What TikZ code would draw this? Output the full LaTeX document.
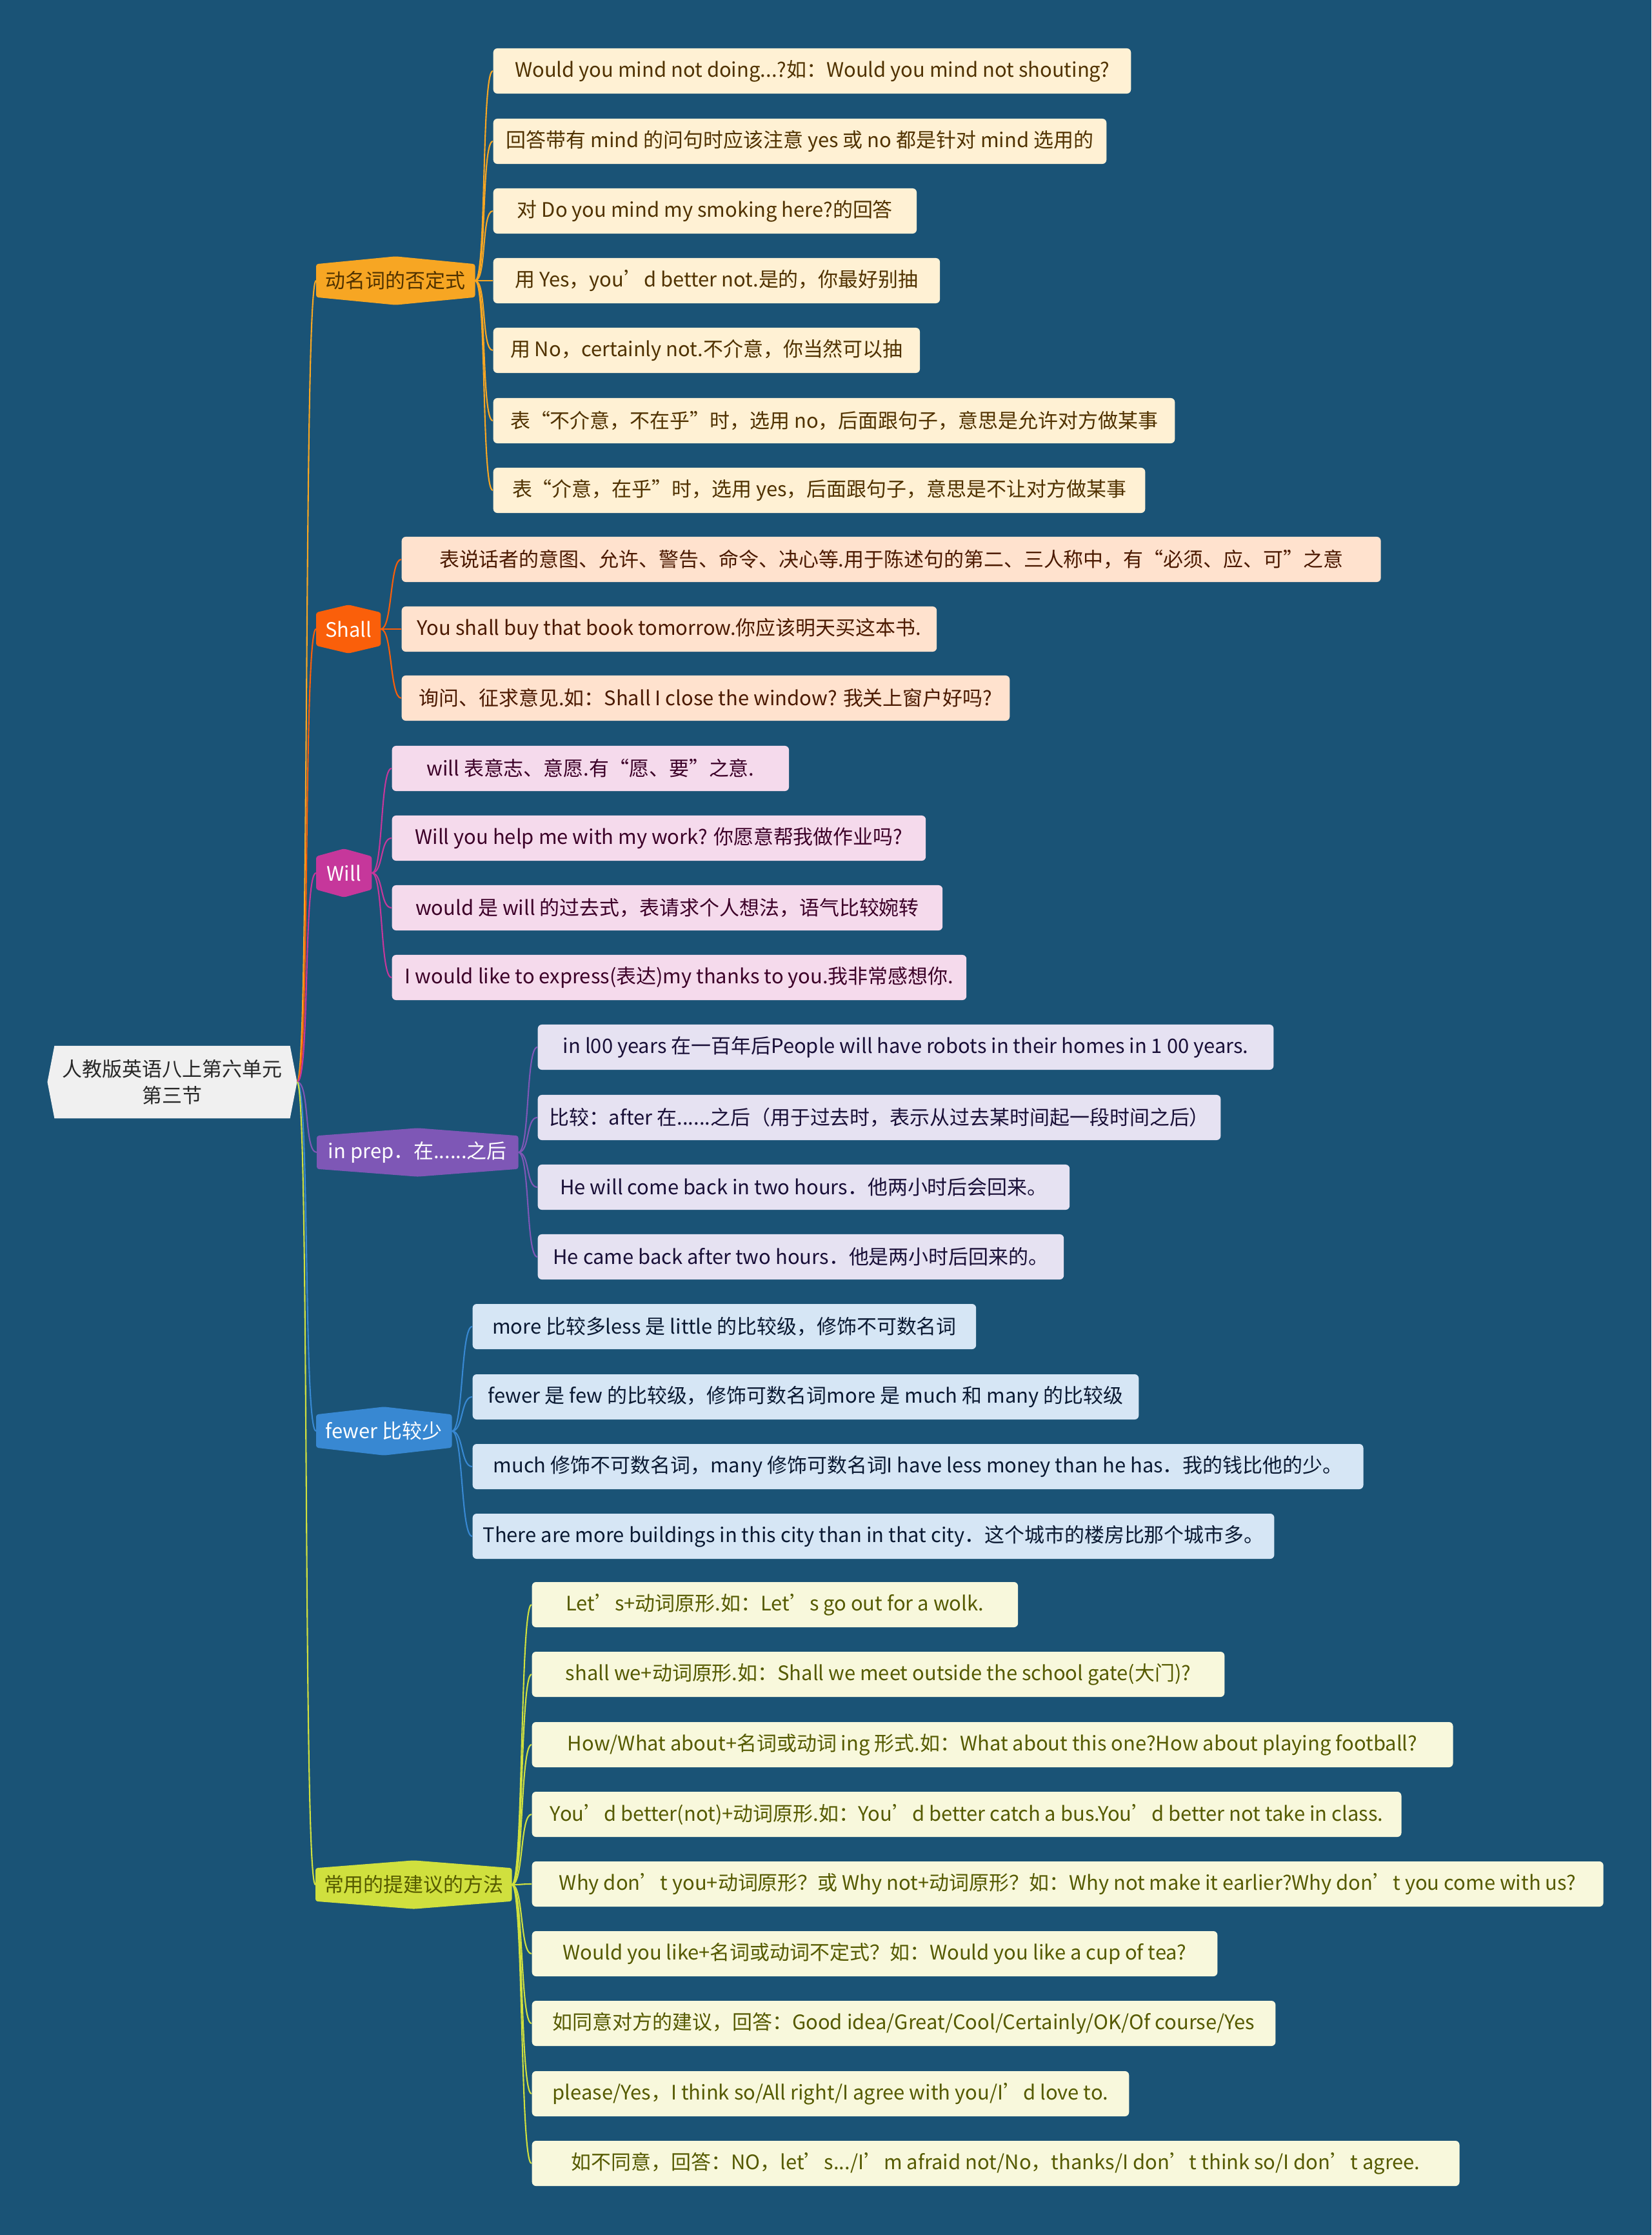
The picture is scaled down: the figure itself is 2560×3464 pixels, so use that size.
\documentclass[tikz,border=0pt]{standalone}
\usepackage{fontspec}
\setmainfont{Noto Sans CJK SC}
\usetikzlibrary{calc}

\definecolor{bgblue}{RGB}{26,83,118}
\definecolor{rootfill}{RGB}{240,240,240}
\definecolor{roottext}{RGB}{40,40,40}
% branch colours
\definecolor{topA}{RGB}{247,166,35}
\definecolor{topB}{RGB}{250,95,10}
\definecolor{topC}{RGB}{198,55,155}
\definecolor{topD}{RGB}{126,87,182}
\definecolor{topE}{RGB}{56,136,210}
\definecolor{topF}{RGB}{208,224,62}
\definecolor{fillA}{RGB}{255,241,212}
\definecolor{fillB}{RGB}{255,226,206}
\definecolor{fillC}{RGB}{245,218,236}
\definecolor{fillD}{RGB}{230,226,242}
\definecolor{fillE}{RGB}{214,230,245}
\definecolor{fillF}{RGB}{248,248,220}
\definecolor{textA}{RGB}{80,50,0}
\definecolor{textB}{RGB}{75,25,0}
\definecolor{textC}{RGB}{60,0,40}
\definecolor{textD}{RGB}{25,15,55}
\definecolor{textE}{RGB}{10,25,50}
\definecolor{textF}{RGB}{85,90,0}

\pgfdeclarelayer{back}
\pgfsetlayers{back,main}

\newcommand{\mapfont}{\fontsize{8.8pt}{11.5pt}\selectfont}

\tikzset{
  link/.style={line width=0.6pt},
  topic/.style={anchor=west, minimum height=0.5cm, inner sep=1pt, font=\mapfont},
  leaf/.style={anchor=west, rounded corners=1.8pt, minimum height=0.7cm,
    inner xsep=3pt, inner ysep=0pt, font=\mapfont},
  leafA/.style={leaf, fill=fillA, text=textA},
  leafB/.style={leaf, fill=fillB, text=textB},
  leafC/.style={leaf, fill=fillC, text=textC},
  leafD/.style={leaf, fill=fillD, text=textD},
  leafE/.style={leaf, fill=fillE, text=textE},
  leafF/.style={leaf, fill=fillF, text=textF},
}

\begin{document}
\begin{tikzpicture}[x=0.01cm, y=-0.01cm]
\useasboundingbox (0,0) rectangle (2560,3464);
\begin{pgfonlayer}{back}
  \fill[bgblue] (0,0) rectangle (2560,3464);
\end{pgfonlayer}

% root
\node[align=center, minimum width=3.62cm, minimum height=1.11cm, text=roottext, font=\mapfont]
  (root) at (267,1677) {人教版英语八上第六单元\\第三节};
\coordinate (rootout) at ([xshift=3.1pt]root.east);

% main topics
\node[topic, minimum width=2.45cm, text=textA] (m1) at (490,435) {动名词的否定式};
\node[topic, minimum width=0.99cm, text=white] (m2) at (490,975) {Shall};
\node[topic, minimum width=0.85cm, text=white] (m3) at (490,1353) {Will};
\node[topic, minimum width=3.11cm, text=white] (m4) at (491,1786) {in prep．在......之后};
\node[topic, minimum width=2.09cm, text=white] (m5) at (490,2218) {fewer 比较少};
\node[topic, minimum width=3.03cm, text=textF] (m6) at (489,2921) {常用的提建议的方法};

% 动名词的否定式
\node[leafA, minimum width=9.88cm] (a1) at (764,110) {Would you mind not doing...?如：Would you mind not shouting?};
\node[leafA, minimum width=9.50cm] (a2) at (764,219) {回答带有 mind 的问句时应该注意 yes 或 no 都是针对 mind 选用的};
\node[leafA, minimum width=6.56cm] (a3) at (764,327) {对 Do you mind my smoking here?的回答};
\node[leafA, minimum width=6.92cm] (a4) at (764,435) {用 Yes，you’d better not.是的，你最好别抽};
\node[leafA, minimum width=6.61cm] (a5) at (764,543) {用 No，certainly not.不介意，你当然可以抽};
\node[leafA, minimum width=10.56cm] (a6) at (764,652) {表“不介意，不在乎”时，选用 no，后面跟句子，意思是允许对方做某事};
\node[leafA, minimum width=10.10cm] (a7) at (764,760) {表“介意，在乎”时，选用 yes，后面跟句子，意思是不让对方做某事};

% Shall
\node[leafB, minimum width=15.17cm] (b1) at (622,867) {表说话者的意图、允许、警告、命令、决心等.用于陈述句的第二、三人称中，有“必须、应、可”之意};
\node[leafB, minimum width=8.29cm] (b2) at (622,975) {You shall buy that book tomorrow.你应该明天买这本书.};
\node[leafB, minimum width=9.42cm] (b3) at (622,1082) {询问、征求意见.如：Shall I close the window? 我关上窗户好吗?};

% Will
\node[leafC, minimum width=6.15cm] (c1) at (607,1191) {will 表意志、意愿.有“愿、要”之意.};
\node[leafC, minimum width=8.27cm] (c2) at (607,1299) {Will you help me with my work? 你愿意帮我做作业吗?};
\node[leafC, minimum width=8.53cm] (c3) at (607,1407) {would 是 will 的过去式，表请求个人想法，语气比较婉转};
\node[leafC, minimum width=8.90cm] (c4) at (607,1515) {I would like to express(表达)my thanks to you.我非常感想你.};

% in prep.
\node[leafD, minimum width=11.40cm] (d1) at (833,1623) {in l00 years 在一百年后People will have robots in their homes in 1 00 years.};
\node[leafD, minimum width=10.58cm] (d2) at (833,1732) {比较：after 在......之后（用于过去时，表示从过去某时间起一段时间之后）};
\node[leafD, minimum width=8.24cm] (d3) at (833,1840) {He will come back in two hours．他两小时后会回来。};
\node[leafD, minimum width=8.15cm] (d4) at (833,1948) {He came back after two hours．他是两小时后回来的。};

% fewer
\node[leafE, minimum width=7.80cm] (e1) at (732,2056) {more 比较多less 是 little 的比较级，修饰不可数名词};
\node[leafE, minimum width=10.32cm] (e2) at (732,2165) {fewer 是 few 的比较级，修饰可数名词more 是 much 和 many 的比较级};
\node[leafE, minimum width=13.80cm] (e3) at (732,2273) {much 修饰不可数名词，many 修饰可数名词I have less money than he has．我的钱比他的少。};
\node[leafE, minimum width=12.42cm] (e4) at (732,2381) {There are more buildings in this city than in that city．这个城市的楼房比那个城市多。};

% 常用的提建议的方法
\node[leafF, minimum width=7.53cm] (f1) at (824,2487) {Let’s+动词原形.如：Let’s go out for a wolk.};
\node[leafF, minimum width=10.73cm] (f2) at (824,2595) {shall we+动词原形.如：Shall we meet outside the school gate(大门)?};
\node[leafF, minimum width=14.27cm] (f3) at (824,2704) {How/What about+名词或动词 ing 形式.如：What about this one?How about playing football?};
\node[leafF, minimum width=13.47cm] (f4) at (824,2812) {You’d better(not)+动词原形.如：You’d better catch a bus.You’d better not take in class.};
\node[leafF, minimum width=16.60cm] (f5) at (824,2920) {Why don’t you+动词原形？或 Why not+动词原形？如：Why not make it earlier?Why don’t you come with us?};
\node[leafF, minimum width=10.62cm] (f6) at (824,3028) {Would you like+名词或动词不定式？如：Would you like a cup of tea?};
\node[leafF, minimum width=11.52cm] (f7) at (824,3136) {如同意对方的建议，回答：Good idea/Great/Cool/Certainly/OK/Of course/Yes};
\node[leafF, minimum width=9.25cm] (f8) at (824,3245) {please/Yes，I think so/All right/I agree with you/I’d love to.};
\node[leafF, minimum width=14.37cm] (f9) at (824,3353) {如不同意，回答：NO，let’s.../I’m afraid not/No，thanks/I don’t think so/I don’t agree.};

% shapes behind the texts
\begin{pgfonlayer}{back}
  \fill[rootfill] (root.north west) -- (root.north east) -- (rootout) -- (root.south east)
    -- (root.south west) -- ([xshift=-3.1pt]root.west) -- cycle;
  \foreach \n/\c in {m1/topA, m2/topB, m3/topC, m4/topD, m5/topE, m6/topF}
    \fill[\c, rounded corners=1pt] (\n.north west) -- ([yshift=3.4pt]\n.north) -- (\n.north east)
      -- (\n.south east) -- ([yshift=-3.4pt]\n.south) -- (\n.south west) -- cycle;
\end{pgfonlayer}

% connectors
\foreach \m/\c in {m1/topA, m2/topB, m3/topC, m4/topD, m5/topE, m6/topF}
  \draw[link, \c] (rootout) .. controls +(20,0) and +(-20,0) .. (\m.west);
\foreach \l in {a1,a2,a3,a4,a5,a6,a7}
  \draw[link, topA] (m1.east) .. controls +(18,0) and +(-18,0) .. (\l.west);
\foreach \l in {b1,b2,b3}
  \draw[link, topB] (m2.east) .. controls +(18,0) and +(-18,0) .. (\l.west);
\foreach \l in {c1,c2,c3,c4}
  \draw[link, topC] (m3.east) .. controls +(18,0) and +(-18,0) .. (\l.west);
\foreach \l in {d1,d2,d3,d4}
  \draw[link, topD] (m4.east) .. controls +(18,0) and +(-18,0) .. (\l.west);
\foreach \l in {e1,e2,e3,e4}
  \draw[link, topE] (m5.east) .. controls +(18,0) and +(-18,0) .. (\l.west);
\foreach \l in {f1,f2,f3,f4,f5,f6,f7,f8,f9}
  \draw[link, topF] (m6.east) .. controls +(18,0) and +(-18,0) .. (\l.west);
\end{tikzpicture}
\end{document}
